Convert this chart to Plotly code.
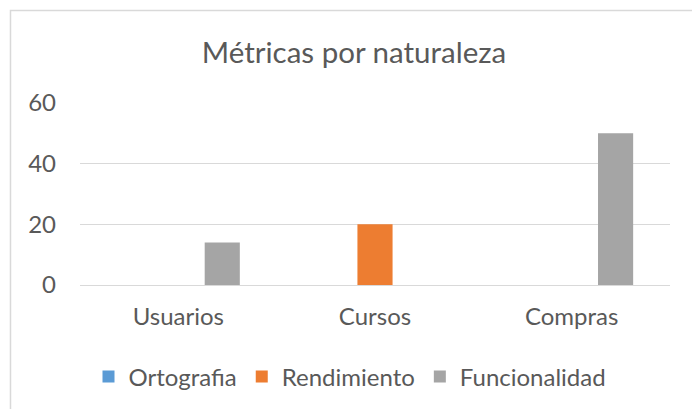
import plotly.graph_objects as go

# Categories and series values
categories = ["Usuarios", "Cursos", "Compras"]
ortografia = [0, 0, 0]
rendimiento = [0, 20, 0]
funcionalidad = [14, 0, 50]

series_names = ["Ortografia", "Rendimiento", "Funcionalidad"]
series_colors = ["#5B9BD5", "#ED7D31", "#A5A5A5"]
y_ticks = [0, 20, 40, 60]

FONT = "Lato, Carlito, Calibri, sans-serif"
TEXT_COLOR = "#595959"
GRID_COLOR = "#D9D9D9"

fig = go.Figure()
for name, vals, color in zip(series_names, [ortografia, rendimiento, funcionalidad], series_colors):
    fig.add_trace(go.Bar(
        name=name,
        x=categories,
        y=vals,
        marker=dict(color=color, line=dict(width=0)),
    ))

fig.update_layout(
    width=692,
    height=409,
    margin=dict(l=80, r=22, t=103, b=124),
    paper_bgcolor="white",
    plot_bgcolor="white",
    barmode="group",
    bargap=0.33,
    bargroupgap=0.2,
    font=dict(family=FONT, color=TEXT_COLOR, size=24),
    title=dict(
        text="Métricas por naturaleza",
        font=dict(family=FONT, size=29.5, color=TEXT_COLOR),
        x=354 / 692, xref="container", xanchor="center",
        y=1 - 53 / 409, yref="container", yanchor="middle",
    ),
    legend=dict(
        orientation="h",
        x=350 / 692, xref="container", xanchor="center",
        y=1 - 377 / 409, yref="container", yanchor="middle",
        font=dict(family=FONT, size=24, color=TEXT_COLOR),
        itemclick=False,
        traceorder="normal",
    ),
    xaxis=dict(
        showgrid=False,
        showline=False,
        zeroline=False,
        ticks="",
        ticklabelstandoff=15,
        tickfont=dict(family=FONT, size=24, color=TEXT_COLOR),
    ),
    yaxis=dict(
        range=[0, 60],
        tickvals=y_ticks,
        showgrid=True,
        gridcolor=GRID_COLOR,
        gridwidth=1.3,
        zeroline=True,
        zerolinecolor=GRID_COLOR,
        zerolinewidth=1.3,
        showline=False,
        ticks="",
        ticklabelstandoff=23,
        tickfont=dict(family=FONT, size=24, color=TEXT_COLOR),
    ),
    shapes=[
        # chart-area border (left and top edges visible)
        dict(type="rect", xref="paper", yref="paper",
             x0=-0.1178, x1=1.2, y0=-0.8, y1=1.508,
             line=dict(color=GRID_COLOR, width=1.5),
             fillcolor="rgba(0,0,0,0)", layer="below"),
    ],
)

fig.write_html("out.html")
